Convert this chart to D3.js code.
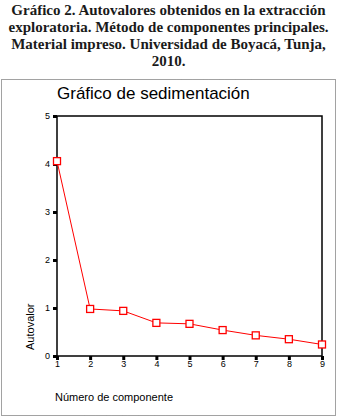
<!DOCTYPE html>
<html>
<head>
<meta charset="utf-8">
<script src="https://cdn.jsdelivr.net/npm/d3@7"></script>
<style>
  body { margin: 0; background: #fff; }
  svg { display: block; }
</style>
</head>
<body>
<div id="graph"></div>
<script>
var captionLines = [
  'Gráfico 2. Autovalores obtenidos en la extracción',
  'exploratoria. Método de componentes principales.',
  'Material impreso. Universidad de Boyacá, Tunja,',
  '2010.'
]
var chartTitle = 'Gráfico de sedimentación'
var xLabel = 'Número de componente'
var yLabel = 'Autovalor'

var components = [1, 2, 3, 4, 5, 6, 7, 8, 9]
var eigenvalues = [4.06, 0.98, 0.94, 0.69, 0.67, 0.54, 0.43, 0.35, 0.24]
var yTicks = [0, 1, 2, 3, 4, 5]

var width = 337, height = 417
var svg = d3.select('#graph').append('svg')
  .attr('width', width).attr('height', height)

// caption
svg.append('g').selectAll('text')
  .data(captionLines)
  .join('text')
  .attr('x', 168.5)
  .attr('y', (d, i) => 15 + i*17)
  .attr('text-anchor', 'middle')
  .style('font-family', '"Liberation Serif", "Times New Roman", serif')
  .style('font-weight', 'bold')
  .style('font-size', '15px')
  .style('fill', '#1a1a1a')
  .text(d => d)

// dotted frame
svg.append('rect')
  .attr('x', 1.5).attr('y', 79.5)
  .attr('width', 334).attr('height', 336)
  .attr('fill', 'none')
  .attr('stroke', '#444')
  .attr('stroke-dasharray', '1,1')

var margin = {left: 57, top: 116, right: 322, bottom: 356}
var x = d3.scaleLinear().domain([1, 9]).range([margin.left, margin.right])
var y = d3.scaleLinear().domain([0, 5]).range([margin.bottom, margin.top])

var font = 'Arial, "Liberation Sans", sans-serif'

svg.append('text')
  .attr('x', 57).attr('y', 99)
  .style('font-family', font)
  .style('font-size', '17px')
  .text(chartTitle)

// plot frame
svg.append('rect')
  .attr('x', x(1)).attr('y', y(5))
  .attr('width', x(9) - x(1)).attr('height', y(0) - y(5))
  .attr('fill', 'none').attr('stroke', '#000').attr('stroke-width', 1.5)

// y axis
var yAxis = d3.axisLeft(y).tickValues(yTicks).tickFormat(d3.format('d')).tickSize(0).tickPadding(7)
var yg = svg.append('g').attr('transform', `translate(${x(1)},0)`).call(yAxis)
yg.select('.domain').remove()
yg.selectAll('text').style('font-family', font).style('font-size', '9px')
yg.selectAll('.tick').append('rect')
  .attr('x', -4).attr('y', -1.5).attr('width', 4).attr('height', 3).attr('fill', '#000')

// x axis
var xAxis = d3.axisBottom(x).tickValues(components).tickFormat(d3.format('d')).tickSize(0).tickPadding(5)
var xg = svg.append('g').attr('transform', `translate(0,${y(0)})`).call(xAxis)
xg.select('.domain').remove()
xg.selectAll('text').style('font-family', font).style('font-size', '9px')
xg.selectAll('.tick').append('rect')
  .attr('x', -1.5).attr('y', 0).attr('width', 3).attr('height', 4).attr('fill', '#000')

svg.append('text')
  .attr('transform', `translate(34,${y(0) - 6}) rotate(-90)`)
  .style('font-family', font).style('font-size', '11px')
  .text(yLabel)

svg.append('text')
  .attr('x', 55).attr('y', 401)
  .style('font-family', font).style('font-size', '11px')
  .text(xLabel)

var pts = components.map((c, i) => ({c, v: eigenvalues[i]}))

svg.append('path')
  .datum(pts)
  .attr('d', d3.line().x(d => x(d.c)).y(d => y(d.v)))
  .attr('fill', 'none').attr('stroke', '#f00').attr('stroke-width', 1)

svg.selectAll('rect.pt')
  .data(pts)
  .join('rect')
  .attr('class', 'pt')
  .attr('x', d => x(d.c) - 3.5).attr('y', d => y(d.v) - 3.5)
  .attr('width', 7).attr('height', 7)
  .attr('fill', '#fff').attr('stroke', '#f00').attr('stroke-width', 1.3)
</script>
</body>
</html>
